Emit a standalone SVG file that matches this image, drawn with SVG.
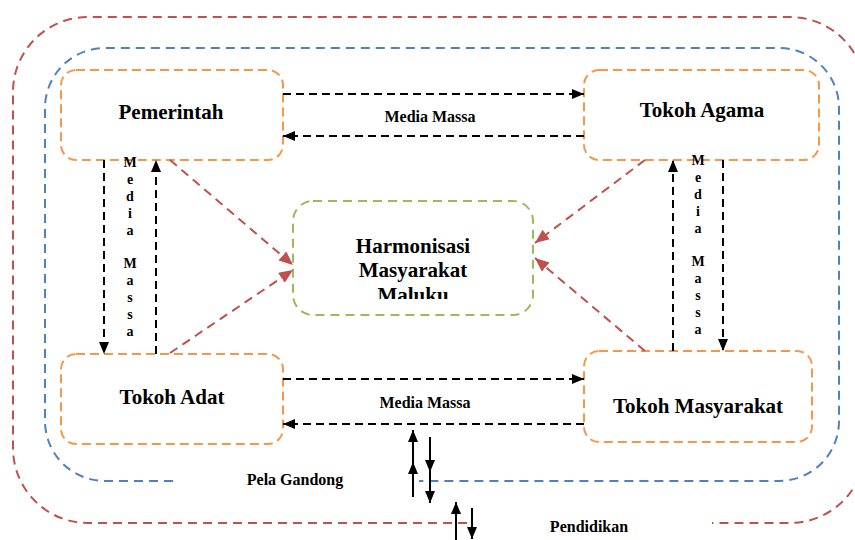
<svg xmlns="http://www.w3.org/2000/svg" width="855" height="540" viewBox="0 0 855 540">
<style>
text{font-family:'Liberation Serif','DejaVu Serif',serif;font-weight:bold;fill:#000;text-anchor:middle}
.big{font-size:21px}
.lbl{font-size:16px}
.v{font-size:14px}
.box{fill:none;stroke:#F79646;stroke-width:2;stroke-dasharray:9 5}
.blk{fill:none;stroke:#000;stroke-width:2;stroke-dasharray:8 5}
.red{fill:none;stroke:#C0504D;stroke-width:2;stroke-dasharray:9 6}
.sol{fill:none;stroke:#000;stroke-width:2}
</style>
<defs>
<marker id="ab" viewBox="0 0 12 10" refX="12" refY="5" markerWidth="12" markerHeight="10" markerUnits="userSpaceOnUse" orient="auto">
<path d="M0,0 L12,5 L0,10 Z" fill="#000"/>
</marker>
<marker id="ar" viewBox="0 0 14 12" refX="14" refY="6" markerWidth="14" markerHeight="12" markerUnits="userSpaceOnUse" orient="auto">
<path d="M0,0 L14,6 L0,12 Z" fill="#C0504D"/>
</marker>
<clipPath id="clipM"><rect x="290" y="200" width="250" height="99"/></clipPath>
</defs>

<g id="frames">
<path d="M467,523 H88 A75,75 0 0 1 13,448 V92 A75,75 0 0 1 88,17 H790 A75,75 0 0 1 865,92 V448 A75,75 0 0 1 790,523 H712" fill="none" stroke="#C0504D" stroke-width="2" stroke-dasharray="9 6"/>
<path d="M173,481 H105 A60,60 0 0 1 45,421 V108 A60,60 0 0 1 105,48 H779 A60,60 0 0 1 839,108 V421 A60,60 0 0 1 779,481 H419" fill="none" stroke="#4F81BD" stroke-width="2" stroke-dasharray="9 6"/>
<text class="lbl" x="295" y="485">Pela Gandong</text>
<text class="lbl" x="589" y="532">Pendidikan</text>
</g>

<g id="pemerintah">
<rect class="box" x="61" y="70" width="222" height="90" rx="15"/>
<text class="big" x="171" y="119">Pemerintah</text>
</g>
<g id="tokoh-agama">
<rect class="box" x="584" y="70" width="235" height="90" rx="15"/>
<text class="big" x="702" y="117">Tokoh Agama</text>
</g>
<g id="tokoh-adat">
<rect class="box" x="61" y="354" width="222" height="90" rx="15"/>
<text class="big" x="172" y="404">Tokoh Adat</text>
</g>
<g id="tokoh-masyarakat">
<rect class="box" x="584" y="351" width="228" height="91" rx="15"/>
<text class="big" x="698" y="413">Tokoh Masyarakat</text>
</g>
<g id="harmonisasi">
<rect x="293" y="201" width="240" height="114" rx="20" fill="none" stroke="#9BBB59" stroke-width="2" stroke-dasharray="9 6"/>
<text class="big" x="413" y="253">Harmonisasi</text>
<text class="big" x="413" y="277">Masyarakat</text>
<text class="big" x="413" y="302" clip-path="url(#clipM)">Maluku</text>
</g>

<g id="connectors">
<line class="blk" x1="283" y1="94" x2="584" y2="94" marker-end="url(#ab)"/>
<line class="blk" x1="584" y1="136" x2="283" y2="136" marker-end="url(#ab)"/>
<text class="lbl" x="430" y="122">Media Massa</text>
<line class="blk" x1="283" y1="379" x2="584" y2="379" marker-end="url(#ab)"/>
<line class="blk" x1="584" y1="424" x2="283" y2="424" marker-end="url(#ab)"/>
<text class="lbl" x="425" y="408">Media Massa</text>

<line class="blk" x1="104" y1="160" x2="104" y2="354" marker-end="url(#ab)"/>
<line class="blk" x1="156" y1="354" x2="156" y2="160" marker-end="url(#ab)"/>
<text class="v" x="130" y="167">M</text><text class="v" x="130" y="184">e</text><text class="v" x="130" y="201">d</text><text class="v" x="130" y="218">i</text><text class="v" x="130" y="235">a</text>
<text class="v" x="130" y="268">M</text><text class="v" x="130" y="285">a</text><text class="v" x="130" y="302">s</text><text class="v" x="130" y="319">s</text><text class="v" x="130" y="336">a</text>
<line class="blk" x1="673" y1="351" x2="673" y2="160" marker-end="url(#ab)"/>
<line class="blk" x1="723" y1="160" x2="723" y2="351" marker-end="url(#ab)"/>
<text class="v" x="698" y="165">M</text><text class="v" x="698" y="182">e</text><text class="v" x="698" y="199">d</text><text class="v" x="698" y="216">i</text><text class="v" x="698" y="233">a</text>
<text class="v" x="698" y="266">M</text><text class="v" x="698" y="283">a</text><text class="v" x="698" y="300">s</text><text class="v" x="698" y="317">s</text><text class="v" x="698" y="334">a</text>

<line class="red" x1="170" y1="160" x2="293" y2="265" marker-end="url(#ar)"/>
<line class="red" x1="170" y1="353" x2="293" y2="270" marker-end="url(#ar)"/>
<line class="red" x1="645" y1="160" x2="535" y2="243" marker-end="url(#ar)"/>
<line class="red" x1="645" y1="351" x2="535" y2="258" marker-end="url(#ar)"/>

<line class="sol" x1="413" y1="497" x2="413" y2="430" marker-end="url(#ab)"/>
<line class="sol" x1="413" y1="497" x2="413" y2="462" marker-end="url(#ab)"/>
<line class="sol" x1="430" y1="437" x2="430" y2="503" marker-end="url(#ab)"/>
<line class="sol" x1="430" y1="437" x2="430" y2="472" marker-end="url(#ab)"/>
<line class="sol" x1="456" y1="541" x2="456" y2="502" marker-end="url(#ab)"/>
<line class="sol" x1="472" y1="508" x2="472" y2="539" marker-end="url(#ab)"/>
</g>
</svg>
